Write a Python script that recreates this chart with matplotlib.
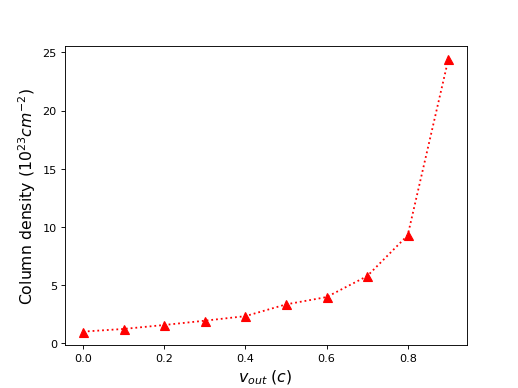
import matplotlib
matplotlib.use("Agg")
import matplotlib.pyplot as plt

# outflow velocity (c) and column density (1e23 cm^-2)
v_out = [0.0, 0.1, 0.2, 0.3, 0.4, 0.5, 0.6, 0.7, 0.8, 0.9]
col_density = [1.0, 1.23, 1.57, 1.94, 2.33, 3.34, 3.97, 5.77, 9.28, 24.4]

plt.figure(figsize=(6.4, 4.8), dpi=81)
plt.plot(v_out, col_density, 'r^:', markersize=8, linewidth=1.6)
plt.xlabel(r"$v_{out}$ $(c)$", fontsize=14)
plt.ylabel(r"Column density ($10^{23} cm^{-2}$)", fontsize=14)

plt.savefig("out.png", dpi=81)
